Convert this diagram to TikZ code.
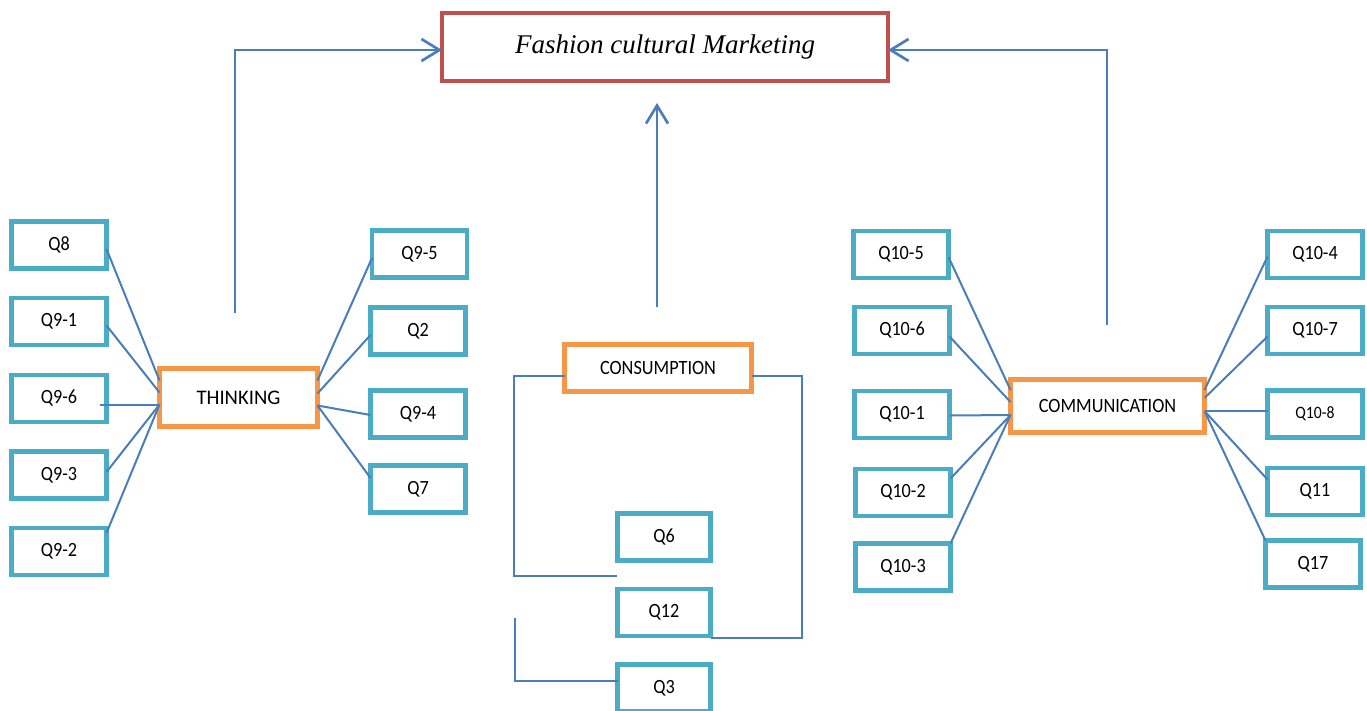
\documentclass[tikz,border=0pt]{standalone}
\usepackage{fontspec}
\setmainfont{Carlito}
\newfontfamily\titlefont{Liberation Serif}
\newfontfamily\nfont[FakeStretch=0.9]{Carlito}
\usetikzlibrary{arrows.meta}
\definecolor{qcol}{HTML}{4BACC6}
\definecolor{ocol}{HTML}{F79646}
\definecolor{rcol}{HTML}{C0504D}
\definecolor{lcol}{HTML}{4A7EBB}
\tikzset{
  qbox/.style={draw=qcol, line width=4.5pt, minimum width=95pt, minimum height=47pt, inner sep=0pt, outer sep=0pt, fill=white, font={\nfont\fontsize{20.2pt}{24pt}\selectfont}},
  obox/.style={draw=ocol, line width=5pt, inner sep=0pt, outer sep=0pt, fill=white, font={\nfont\fontsize{20.3pt}{24pt}\selectfont}},
  conn/.style={draw=lcol, line width=2pt},
  arr/.style={draw=lcol, line width=2.7pt, -{Straight Barb[length=18pt,width=22pt]}}
}
\begin{document}
\begin{tikzpicture}[x=1pt,y=-1pt]
\useasboundingbox (0,0) rectangle (1367,710);
% title
\node[draw=rcol, line width=4pt, inner sep=0pt, outer sep=0pt, minimum width=446pt, minimum height=68pt,
  font={\titlefont\itshape\fontsize{27pt}{32pt}\selectfont}] (TT) at (665,47) {\raisebox{6pt}{Fashion cultural Marketing}};
% main boxes
\node[obox, minimum width=158pt, minimum height=58pt, font={\fontsize{20.7pt}{24pt}\selectfont}] (TH) at (238.5,397.5) {THINKING};
\node[obox, minimum width=187pt, minimum height=47pt] (CS) at (658,368) {CONSUMPTION};
\node[obox, minimum width=194pt, minimum height=53pt] (CO) at (1107.5,406) {COMMUNICATION};
% left Q
\node[qbox] (Q8)  at (59,245) {Q8};
\node[qbox] (Q91) at (59,321.5) {Q9-1};
\node[qbox] (Q96) at (59,398.5) {Q9-6};
\node[qbox] (Q93) at (59,475) {Q9-3};
\node[qbox] (Q92) at (59,551.5) {Q9-2};
\node[qbox] (Q95) at (419.5,254) {Q9-5};
\node[qbox] (Q2)  at (418,331) {Q2};
\node[qbox] (Q94) at (418,414) {Q9-4};
\node[qbox] (Q7)  at (418,489) {Q7};
% centre Q
\node[qbox, minimum width=93pt] (Q6)  at (664,537) {Q6};
\node[qbox, minimum width=93pt] (Q12) at (664,612.5) {Q12};
\node[qbox, minimum width=93pt] (Q3)  at (664,688) {Q3};
% right Q
\node[qbox] (Q105) at (901,254.5) {Q10-5};
\node[qbox] (Q106) at (902,330.5) {Q10-6};
\node[qbox] (Q101) at (902,414.5) {Q10-1};
\node[qbox] (Q102) at (903,492.5) {Q10-2};
\node[qbox] (Q103) at (903,567) {Q10-3};
\node[qbox] (Q104) at (1315,254.5) {Q10-4};
\node[qbox] (Q107) at (1315,330.5) {Q10-7};
\node[qbox, font={\nfont\fontsize{17.4pt}{20pt}\selectfont}] (Q108) at (1315,414) {Q10-8};
\node[qbox] (Q11)  at (1315,491.5) {Q11};
\node[qbox] (Q17)  at (1313,564) {Q17};
% thinking connectors
\draw[conn] ([yshift=-4pt]Q8.east) -- ([yshift=17pt]TH.west);
\draw[conn] ([yshift=-4pt]Q91.east) -- ([yshift=5pt]TH.west);
\draw[conn] ([xshift=-7pt,yshift=-6pt]Q96.east) -- ([yshift=-7pt]TH.west);
\draw[conn] ([yshift=3pt]Q93.east) -- ([yshift=-7pt]TH.west);
\draw[conn] ([yshift=-5pt]Q92.north east) -- ([yshift=-7pt]TH.west);
\draw[conn] ([yshift=17pt]TH.east) -- ([yshift=-4pt]Q95.west);
\draw[conn] ([yshift=4pt]TH.east) -- ([yshift=-4pt]Q2.west);
\draw[conn] ([yshift=-8pt]TH.east) -- ([yshift=-1pt]Q94.west);
\draw[conn] ([yshift=-8pt]TH.east) -- ([yshift=11pt]Q7.west);
% communication connectors
\draw[conn] ([yshift=-2.5pt]Q105.east) -- ([yshift=16pt]CO.west);
\draw[conn] ([yshift=-6pt]Q106.east) -- ([yshift=4pt]CO.west);
\draw[conn] ([yshift=-1pt]Q101.east) -- ([yshift=-9pt]CO.west);
\draw[conn] ([yshift=14pt]Q102.east) -- ([yshift=-9pt]CO.west);
\draw[conn] (Q103.north east) -- ([yshift=-9pt]CO.west);
\draw[conn] ([yshift=16pt]CO.east) -- ([yshift=-2pt]Q104.west);
\draw[conn] ([yshift=8pt]CO.east) -- ([yshift=-6pt]Q107.west);
\draw[conn] ([yshift=-5pt]CO.east) -- ([yshift=3pt]Q108.west);
\draw[conn] ([yshift=-5pt]CO.east) -- ([yshift=12pt]Q11.west);
\draw[conn] ([yshift=-5pt]CO.east) -- (Q17.north west);
% consumption connectors
\coordinate (c1) at (617,576);
\coordinate (c2) at (515,618);
\draw[conn] ([yshift=-8pt]CS.west) -| (514,576) -- (c1);
\draw[conn] ([yshift=-8pt]CS.east) -| (802,638) -- ([yshift=-2pt]Q12.south east);
\draw[conn] (c2) |- ([yshift=7pt]Q3.west);
% arrows to title
\coordinate (a1) at (235,313);
\coordinate (a2) at (1107,325);
\coordinate (a3) at (657,307);
\coordinate (a4) at (657,103);
\draw[arr] (a1) |- ([yshift=-3pt]TT.west);
\draw[arr] (a2) |- ([yshift=-3pt]TT.east);
\draw[arr] (a3) -- (a4);
\end{tikzpicture}
\end{document}
